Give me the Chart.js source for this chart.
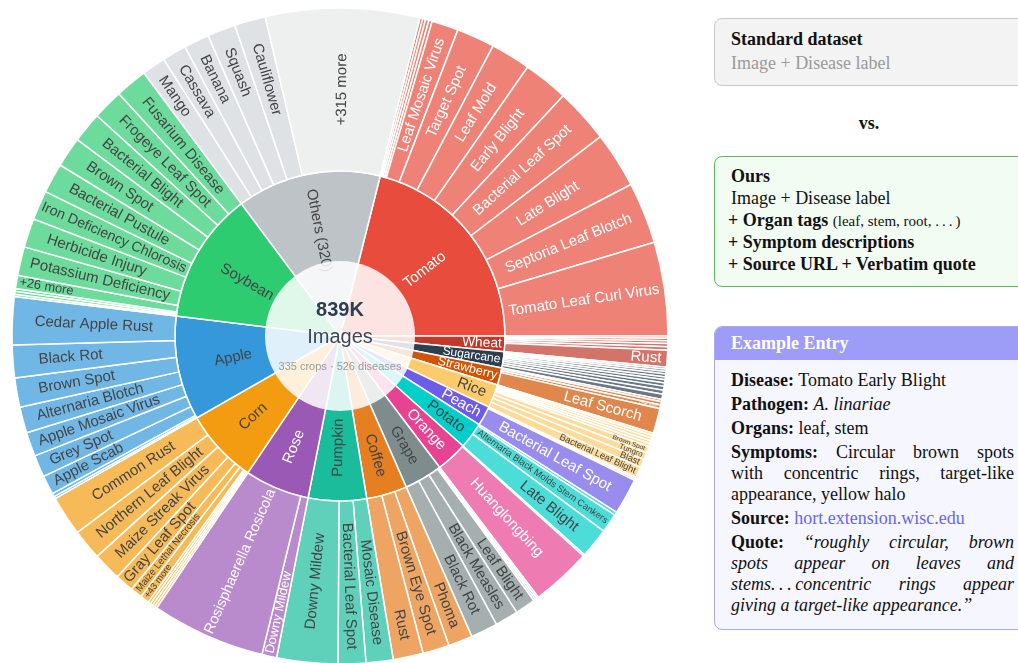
<!DOCTYPE html>
<html>
<head>
<meta charset="utf-8">
<script src="https://cdn.jsdelivr.net/npm/chart.js@4.4.0/dist/chart.umd.min.js"></script>
<style>
  body { margin: 0; width: 1018px; height: 663px; overflow: hidden; background: #fff; position: relative;
         font-family: "Liberation Serif", "Times New Roman", serif; color: #111; }
  #chartBox { position: absolute; left: 0; top: 0; width: 680px; height: 672px; }
  .box { position: absolute; left: 714px; width: 320px; border-radius: 8px; box-sizing: border-box; font-size: 18px; }
  #std { top: 18px; height: 68px; background: #f3f3f3; border: 1px solid #c8c8c8; padding: 8px 20px 0 16px; line-height: 24px; }
  .gray { color: #9a9a9a; }
  #vs { position: absolute; left: 840px; width: 58px; top: 111px; text-align: center; font-weight: bold; font-size: 18px; line-height: 24px; }
  #ours { top: 156px; height: 131px; background: #f3fcf3; border: 1.5px solid #5cb85c; padding: 7px 20px 0 16px; }
  #ours .t { line-height: 24px; font-weight: bold; }
  #ours .l { line-height: 21.5px; }
  #ours .p { margin-left: -3px; }
  .small { font-size: 15px; }
  #ex { top: 326px; height: 304px; background: #f6f6ff; border: 1px solid #aaaaf4; overflow: hidden; }
  #ex .hdr { background: #9d9df7; color: #fff; font-weight: bold; height: 33px; line-height: 33px; padding-left: 16px; }
  #ex .body { padding: 10px 0 0 16px; width: 283px; }
  #ex .p { line-height: 21px; margin-bottom: 3px; }
  .j { text-align: justify; text-align-last: justify; }
  .link { color: #6666f0; }
</style>
</head>
<body>
<div id="chartBox"><canvas id="sunburst" width="680" height="672"></canvas></div>

<div class="box" id="std">
  <div><b>Standard dataset</b></div>
  <div class="gray">Image + Disease label</div>
</div>
<div id="vs">vs.</div>
<div class="box" id="ours">
  <div class="t">Ours</div>
  <div class="l">Image + Disease label</div>
  <div class="l p"><b>+ Organ tags</b> <span class="small">(leaf, stem, root, .&#8201;.&#8201;.&#8201;)</span></div>
  <div class="l p"><b>+ Symptom descriptions</b></div>
  <div class="l p"><b>+ Source URL + Verbatim quote</b></div>
</div>
<div class="box" id="ex">
  <div class="hdr">Example Entry</div>
  <div class="body">
    <div class="p"><b>Disease:</b> Tomato Early Blight</div>
    <div class="p"><b>Pathogen:</b> <i>A. linariae</i></div>
    <div class="p"><b>Organs:</b> leaf, stem</div>
    <div class="p">
      <div class="j"><b>Symptoms:</b> Circular brown spots</div>
      <div class="j">with concentric rings, target-like</div>
      <div>appearance, yellow halo</div>
    </div>
    <div class="p"><b>Source:</b> <span class="link">hort.extension.wisc.edu</span></div>
    <div class="p">
      <div class="j"><b>Quote:</b> <i>“roughly circular, brown</i></div>
      <div class="j"><i>spots appear on leaves and</i></div>
      <div class="j"><i>stems.&#8201;.&#8201;.&#8201;concentric rings appear</i></div>
      <div><i>giving a target-like appearance.”</i></div>
    </div>
  </div>
</div>

<script>
// ---- data (thousands of images) ----
var crops = ['Tomato', 'Wheat', 'Sugarcane', 'Strawberry', 'Rice', 'Peach', 'Potato', 'Orange',
             'Grape', 'Coffee', 'Pumpkin', 'Rose', 'Corn', 'Apple', 'Soybean', 'Others'];
var cropLabels = ['Tomato', 'Wheat', 'Sugarcane', 'Strawberry', 'Rice', 'Peach', 'Potato', 'Orange',
                  'Grape', 'Coffee', 'Pumpkin', 'Rose', 'Corn', 'Apple', 'Soybean', 'Others (320)'];

var diseaseNames = [
  ['', '', '', '', 'Leaf Mosaic Virus', 'Target Spot', 'Leaf Mold', 'Early Blight', 'Bacterial Leaf Spot', 'Late Blight', 'Septoria Leaf Blotch', 'Tomato Leaf Curl Virus'],
  ['', '', '', '', 'Smut', 'Rust'],
  ['', '', '', '', '', '', '', '', '', ''],
  ['', '', 'Leaf Spot', 'Leaf Scorch'],
  ['', '', '', '', '', 'Brown Spot', 'Tungro', 'Blast', 'Bacterial Leaf Blight'],
  ['', '', 'Bacterial Leaf Spot'],
  ['', 'Alternaria Black Molds Stem Cankers', 'Late Blight'],
  ['', 'Huanglongbing'],
  ['', '', '', 'Leaf Blight', 'Black Measles', 'Black Rot'],
  ['Phoma', 'Brown Eye Spot', 'Rust'],
  ['Mosaic Disease', 'Bacterial Leaf Spot', 'Downy Mildew'],
  ['Downy Mildew', 'Rosisphaerella Rosicola'],
  ['', '', '', '', '+43 more', 'Maize Lethal Necrosis', 'Gray Leaf Spot', 'Maize Streak Virus', 'Northern Leaf Blight', 'Common Rust'],
  ['', '', 'Apple Scab', 'Grey Spot', 'Apple Mosaic Virus', 'Alternaria Blotch', 'Brown Spot', 'Black Rot', 'Cedar Apple Rust'],
  ['', '', '', '+26 more', 'Potassium Deficiency', 'Herbicide Injury', 'Iron Deficiency Chlorosis', 'Bacterial Pustule', 'Brown Spot', 'Bacterial Blight', 'Frogeye Leaf Spot', 'Fusarium Disease'],
  ['Mango', 'Cassava', 'Banana', 'Squash', 'Cauliflower', '+315 more']
];

var diseaseImages = [
  [1.2, 1.2, 1.4, 1.4, 11.0, 15.8, 16.5, 18.6, 22.6, 23.1, 25.4, 38.7],
  [0.9, 1.0, 1.2, 1.3, 1.4, 7.0],
  [0.8, 0.9, 1.0, 1.2, 1.2, 1.3, 1.4, 1.6, 1.7, 2.1],
  [1.0, 1.3, 1.6, 10.3],
  [1.0, 1.1, 1.2, 1.2, 1.3, 2.6, 3.0, 3.5, 4.4],
  [0.7, 0.7, 14.9],
  [1.4, 7.9, 12.4],
  [0.7, 24.9],
  [0.7, 0.8, 0.8, 8.4, 9.6, 11.2],
  [10.0, 11.0, 12.4],
  [11.2, 11.4, 25.2],
  [6.1, 47.1],
  [1.0, 1.0, 1.1, 1.1, 3.7, 4.9, 7.7, 11.7, 12.6, 16.5],
  [0.9, 1.4, 7.9, 9.1, 10.0, 10.7, 12.1, 13.5, 19.8],
  [0.9, 1.2, 1.2, 5.4, 11.9, 12.0, 12.1, 12.4, 12.5, 12.6, 12.7, 13.2],
  [9.8, 10.0, 10.5, 11.7, 12.8, 63.6]
];

var centerLines = ['839K', 'Images', '335 crops · 526 diseases'];

// ---- style ----
var FONT = '"Liberation Sans", Arial, sans-serif';
var cropColors = {
  Tomato: '#e74c3c', Wheat: '#c0392b', Sugarcane: '#2c3e50', Strawberry: '#d35400', Rice: '#fdcb6e',
  Peach: '#6c5ce7', Potato: '#00cec9', Orange: '#e84393', Grape: '#7f8c8d', Coffee: '#e67e22',
  Pumpkin: '#1abc9c', Rose: '#9b59b6', Corn: '#f39c12', Apple: '#3498db', Soybean: '#2ecc71', Others: '#bdc3c7'
};
var whiteText = ['Tomato', 'Wheat', 'Sugarcane', 'Strawberry', 'Peach', 'Orange', 'Rose'];
var DARK = '#444';

function lighten(hex, t) {
  var n = parseInt(hex.slice(1), 16);
  var r = (n >> 16) & 255, g = (n >> 8) & 255, b = n & 255;
  return 'rgb(' + Math.round(r + (255 - r) * t) + ',' + Math.round(g + (255 - g) * t) + ',' + Math.round(b + (255 - b) * t) + ')';
}

// ---- build rings ----
var cropTotals = diseaseImages.map(function(a) { return a.reduce(function(s, v) { return s + v; }, 0); });
var innerColors = crops.map(function(c) { return cropColors[c]; });
var innerText = crops.map(function(c) { return whiteText.indexOf(c) >= 0 ? '#fff' : DARK; });

var outerNames = [], outerValues = [], outerColors = [], outerText = [];
crops.forEach(function(c, i) {
  diseaseNames[i].forEach(function(n, j) {
    outerNames.push(n);
    outerValues.push(diseaseImages[i][j]);
    var col = lighten(cropColors[c], 0.3);
    if (c === 'Others') col = (n === '+315 more') ? '#eef0f0' : '#dfe2e4';
    outerColors.push(col);
    outerText.push(whiteText.indexOf(c) >= 0 ? '#fff' : DARK);
  });
});

// Biggest radial text that fits in the sector; keep its centre, cap the font size
function fitLabel(ctx, text, rIn, rOut, span, maxF) {
  ctx.font = '10px ' + FONT;
  var a = ctx.measureText(text).width / 10;
  var hk = 0.85 / (2 * Math.sin(Math.min(span, Math.PI) / 2));
  var pad = 3;
  var fMax = Math.min((rOut - rIn - 2 * pad) / a, (rOut - pad) / (a + hk));
  var start = Math.max(rIn + pad, fMax * hk);
  var r = start + a * fMax / 2;
  var f = Math.min(fMax, maxF);
  if (f < 4) return null;
  return { f: f, r: r };
}

var sunburstLabels = {
  id: 'sunburstLabels',
  afterDatasetsDraw: function(chart) {
    var ctx = chart.ctx;
    chart.data.datasets.forEach(function(ds, di) {
      var meta = chart.getDatasetMeta(di);
      meta.data.forEach(function(arc, i) {
        var name = ds.names[i];
        if (!name) return;
        var p = arc.getProps(['x', 'y', 'startAngle', 'endAngle', 'innerRadius', 'outerRadius'], true);
        var fit = fitLabel(ctx, name, Math.max(p.innerRadius, ds.labelMin), p.outerRadius, p.endAngle - p.startAngle, ds.maxFont);
        if (!fit) return;
        var mid = (p.startAngle + p.endAngle) / 2;
        var right = Math.cos(mid) >= 0;
        ctx.save();
        ctx.translate(p.x + Math.cos(mid) * fit.r, p.y + Math.sin(mid) * fit.r);
        ctx.rotate(right ? mid : mid + Math.PI);
        ctx.font = fit.f + 'px ' + FONT;
        ctx.fillStyle = ds.textColors[i];
        ctx.textAlign = 'center';
        ctx.textBaseline = 'middle';
        ctx.fillText(name, 0, 0);
        ctx.restore();
      });
    });

    // Center hole
    var a0 = chart.getDatasetMeta(1).data[0];
    var cx = a0.x, cy = a0.y;
    ctx.save();
    ctx.beginPath();
    ctx.arc(cx, cy, 75, 0, Math.PI * 2);
    ctx.fillStyle = 'rgba(255,255,255,0.85)';
    ctx.fill();
    ctx.textAlign = 'center';
    ctx.textBaseline = 'middle';
    ctx.fillStyle = '#2c3e50';
    ctx.font = 'bold 20px ' + FONT;
    ctx.fillText(centerLines[0], cx, cy - 26);
    ctx.fillStyle = '#3d4755';
    ctx.font = '20px ' + FONT;
    ctx.fillText(centerLines[1], cx, cy + 1);
    ctx.fillStyle = '#999';
    ctx.font = '11px ' + FONT;
    ctx.fillText(centerLines[2], cx, cy + 31);
    ctx.restore();
  }
};

var chart = new Chart(document.getElementById('sunburst'), {
  type: 'doughnut',
  data: {
    labels: outerNames,
    datasets: [
      {
        data: outerValues,
        names: outerNames,
        textColors: outerText,
        backgroundColor: outerColors,
        borderColor: '#fff',
        borderWidth: 1.5,
        weight: 163,
        labelMin: 0,
        maxFont: 15
      },
      {
        data: cropTotals,
        names: cropLabels,
        textColors: innerText,
        backgroundColor: innerColors,
        borderColor: '#fff',
        borderWidth: 1.5,
        weight: 165,
        labelMin: 50,
        maxFont: 15
      }
    ]
  },
  options: {
    responsive: false,
    animation: false,
    devicePixelRatio: 1,
    events: [],
    cutout: 0,
    radius: 328,
    rotation: 14.1,
    layout: { padding: 8 },
    plugins: { legend: { display: false }, tooltip: { enabled: false } }
  },
  plugins: [sunburstLabels]
});
</script>
</body>
</html>
